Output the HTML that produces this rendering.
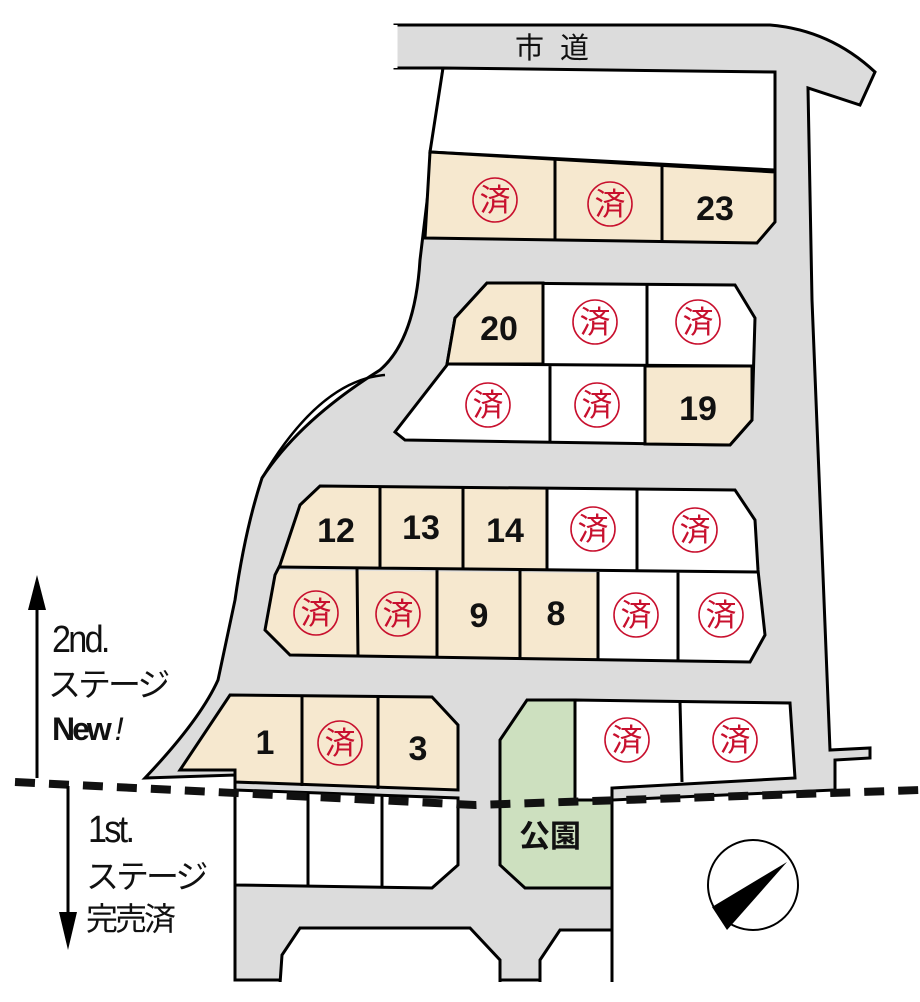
<!DOCTYPE html>
<html><head><meta charset="utf-8"><style>
html,body{margin:0;padding:0;background:#fff;}
svg{display:block;}
.n{font-family:"Liberation Sans",sans-serif;font-weight:bold;font-size:34px;fill:#111;text-anchor:middle;}
.s{font-family:"Liberation Sans","Noto Sans CJK JP",sans-serif;font-size:31px;fill:#c8102e;text-anchor:middle;}
.t{font-family:"Liberation Sans","Noto Sans CJK JP",sans-serif;font-size:30px;fill:#111;}
</style></head><body>
<svg width="920" height="1002" viewBox="0 0 920 1002" xmlns="http://www.w3.org/2000/svg">
<defs>
<g id="sumi"><circle r="22" fill="none" stroke="#c8102e" stroke-width="1.6"/><text class="s" y="11">済</text></g>
</defs>
<path d="M395,25 L770,25 Q830,30 875,72 L860,105 L808,88 L812,300 L830,750 L870,748 L870,758 L835,760 L835,790 L612,800 L612,980 L235,980 L235,775 L145,778 Q200,720 218,680 L235,600 Q245,530 262,478 Q300,420 380,370 Q415,340 420,260 L443,68 L395,68 Z" fill="#dcdcdc" stroke="#000" stroke-width="3"/>
<path d="M395,25 L395,68" stroke="#fff" stroke-width="5"/>
<path d="M262,478 Q320,380 385,375" fill="none" stroke="#000" stroke-width="2.5"/>
<path d="M443,68 L775,72 L775,170 L430,152 Z" fill="#fff" stroke="#000" stroke-width="3"/>
<path d="M430,152 L775,172 L775,222 L757,243 L425,238 Z" fill="#f6e8cf" stroke="#000" stroke-width="3"/>
<path d="M555,160 L555,240 M662,165 L662,242" stroke="#000" stroke-width="3"/>
<use href="#sumi" x="495" y="200"/><use href="#sumi" x="610" y="204"/>
<text class="n" x="715" y="220">23</text>
<path d="M487,283 L735,285 L755,318 L752,420 L730,445 L405,440 L395,432 L447,365 L455,318 Z" fill="#fff" stroke="#000" stroke-width="3"/>
<path d="M487,283 L543,283 L543,364 L447,364 L455,318 Z" fill="#f6e8cf" stroke="#000" stroke-width="3"/>
<path d="M645,366 L752,366 L752,420 L730,445 L645,444 Z" fill="#f6e8cf" stroke="#000" stroke-width="3"/>
<path d="M447,364 L752,366 M647,284 L647,365 M550,365 L550,442" stroke="#000" stroke-width="3"/>
<text class="n" x="499" y="340">20</text>
<use href="#sumi" x="595" y="322"/><use href="#sumi" x="698" y="322"/>
<use href="#sumi" x="488" y="405"/><use href="#sumi" x="597" y="405"/>
<text class="n" x="698" y="420">19</text>
<path d="M320,486 L547,488 L547,570 L279,567 L300,505 Z" fill="#f6e8cf"/>
<path d="M547,488 L735,490 L755,520 L758,570 L765,635 L750,662 L598,660 L598,572 L547,570 Z" fill="#fff"/>
<path d="M276,570 L598,573 L598,658 L290,655 L265,630 Z" fill="#f6e8cf"/>
<path d="M320,486 L735,490 L755,520 L758,570 L765,635 L750,662 L290,655 L265,630 L275,575 L280,565 L300,505 Z" fill="none" stroke="#000" stroke-width="3"/>
<path d="M278,567 L758,572 M380,487 L380,568 M463,488 L463,569 M547,488 L547,570 M637,489 L637,571 M357,569 L358,657 M437,570 L437,658 M520,571 L520,659 M598,572 L598,660 M678,572 L678,661" stroke="#000" stroke-width="3"/>
<text class="n" x="336" y="542">12</text><text class="n" x="421" y="539">13</text><text class="n" x="505" y="542">14</text>
<use href="#sumi" x="593" y="529"/><use href="#sumi" x="695" y="530"/>
<use href="#sumi" x="316" y="613"/><use href="#sumi" x="398" y="614"/>
<text class="n" x="479" y="627">9</text><text class="n" x="556" y="625">8</text>
<use href="#sumi" x="636" y="615"/><use href="#sumi" x="721" y="615"/>
<path d="M230,695 L432,697 L458,725 L458,790 L235,782 L235,770 L180,770 Z" fill="#f6e8cf" stroke="#000" stroke-width="3"/>
<path d="M302,696 L302,786 M378,697 L378,789" stroke="#000" stroke-width="3"/>
<text class="n" x="265" y="754">1</text><use href="#sumi" x="340" y="743"/><text class="n" x="418" y="760">3</text>
<path d="M235,790 L458,798 L458,865 L432,888 L235,885 Z" fill="#fff" stroke="#000" stroke-width="3"/>
<path d="M308,792 L308,886 M382,795 L382,887" stroke="#000" stroke-width="3"/>
<path d="M527,700 L575,700 L575,800 L612,800 L612,888 L525,888 L500,865 L500,740 Z" fill="#cde0bf" stroke="#000" stroke-width="3"/>
<text class="t" x="519" y="847" style="font-size:31px;font-weight:bold">公園</text>
<path d="M575,700 L790,703 L795,778 L612,788 L612,800 L575,800 Z" fill="#fff" stroke="#000" stroke-width="3"/>
<path d="M680,702 L682,782" stroke="#000" stroke-width="3"/>
<use href="#sumi" x="627" y="740"/><use href="#sumi" x="735" y="740"/>
<path d="M280,984 L282,955 L300,928 L470,928 L500,960 L500,984 Z" fill="#fff" stroke="#000" stroke-width="3"/>
<path d="M540,984 L540,960 L560,930 L612,930 L612,984 Z" fill="#fff" stroke="#000" stroke-width="3"/>
<rect x="0" y="982" width="920" height="20" fill="#fff"/>
<path d="M15,782 L475,805 L920,790" fill="none" stroke="#111" stroke-width="8" stroke-dasharray="20,14"/>
<line x1="37" y1="595" x2="37" y2="778" stroke="#000" stroke-width="3"/>
<path d="M37,575 L28,610 L46,610 Z" fill="#000"/>
<line x1="68" y1="786" x2="68" y2="925" stroke="#000" stroke-width="3"/>
<path d="M68,950 L59,912 L77,912 Z" fill="#000"/>
<text class="t" x="52" y="652" style="font-size:38px;letter-spacing:-3px" transform="translate(52,652) scale(0.9,1) translate(-52,-652)">2nd.</text>
<text class="t" x="48" y="696" style="font-size:33px;letter-spacing:-3px">ステージ</text>
<text class="t" x="52" y="740" style="font-size:32px;font-weight:bold;letter-spacing:-3px">New<tspan style="font-style:italic;font-weight:normal"> !</tspan></text>
<text class="t" x="88" y="842" style="font-size:38px;letter-spacing:-3px" transform="translate(88,842) scale(0.9,1) translate(-88,-842)">1st.</text>
<text class="t" x="86" y="888" style="font-size:33px;letter-spacing:-3px">ステージ</text>
<text class="t" x="86" y="930" style="font-size:32px;letter-spacing:-3px">完売済</text>
<text class="t" x="515" y="58" style="font-size:29px;letter-spacing:16px">市道</text>
<ellipse cx="753" cy="885" rx="45" ry="45" fill="#fff" stroke="#000" stroke-width="2"/>
<path d="M787,862 L712,907 L727,930 Z" fill="#000"/>
</svg>
</body></html>
